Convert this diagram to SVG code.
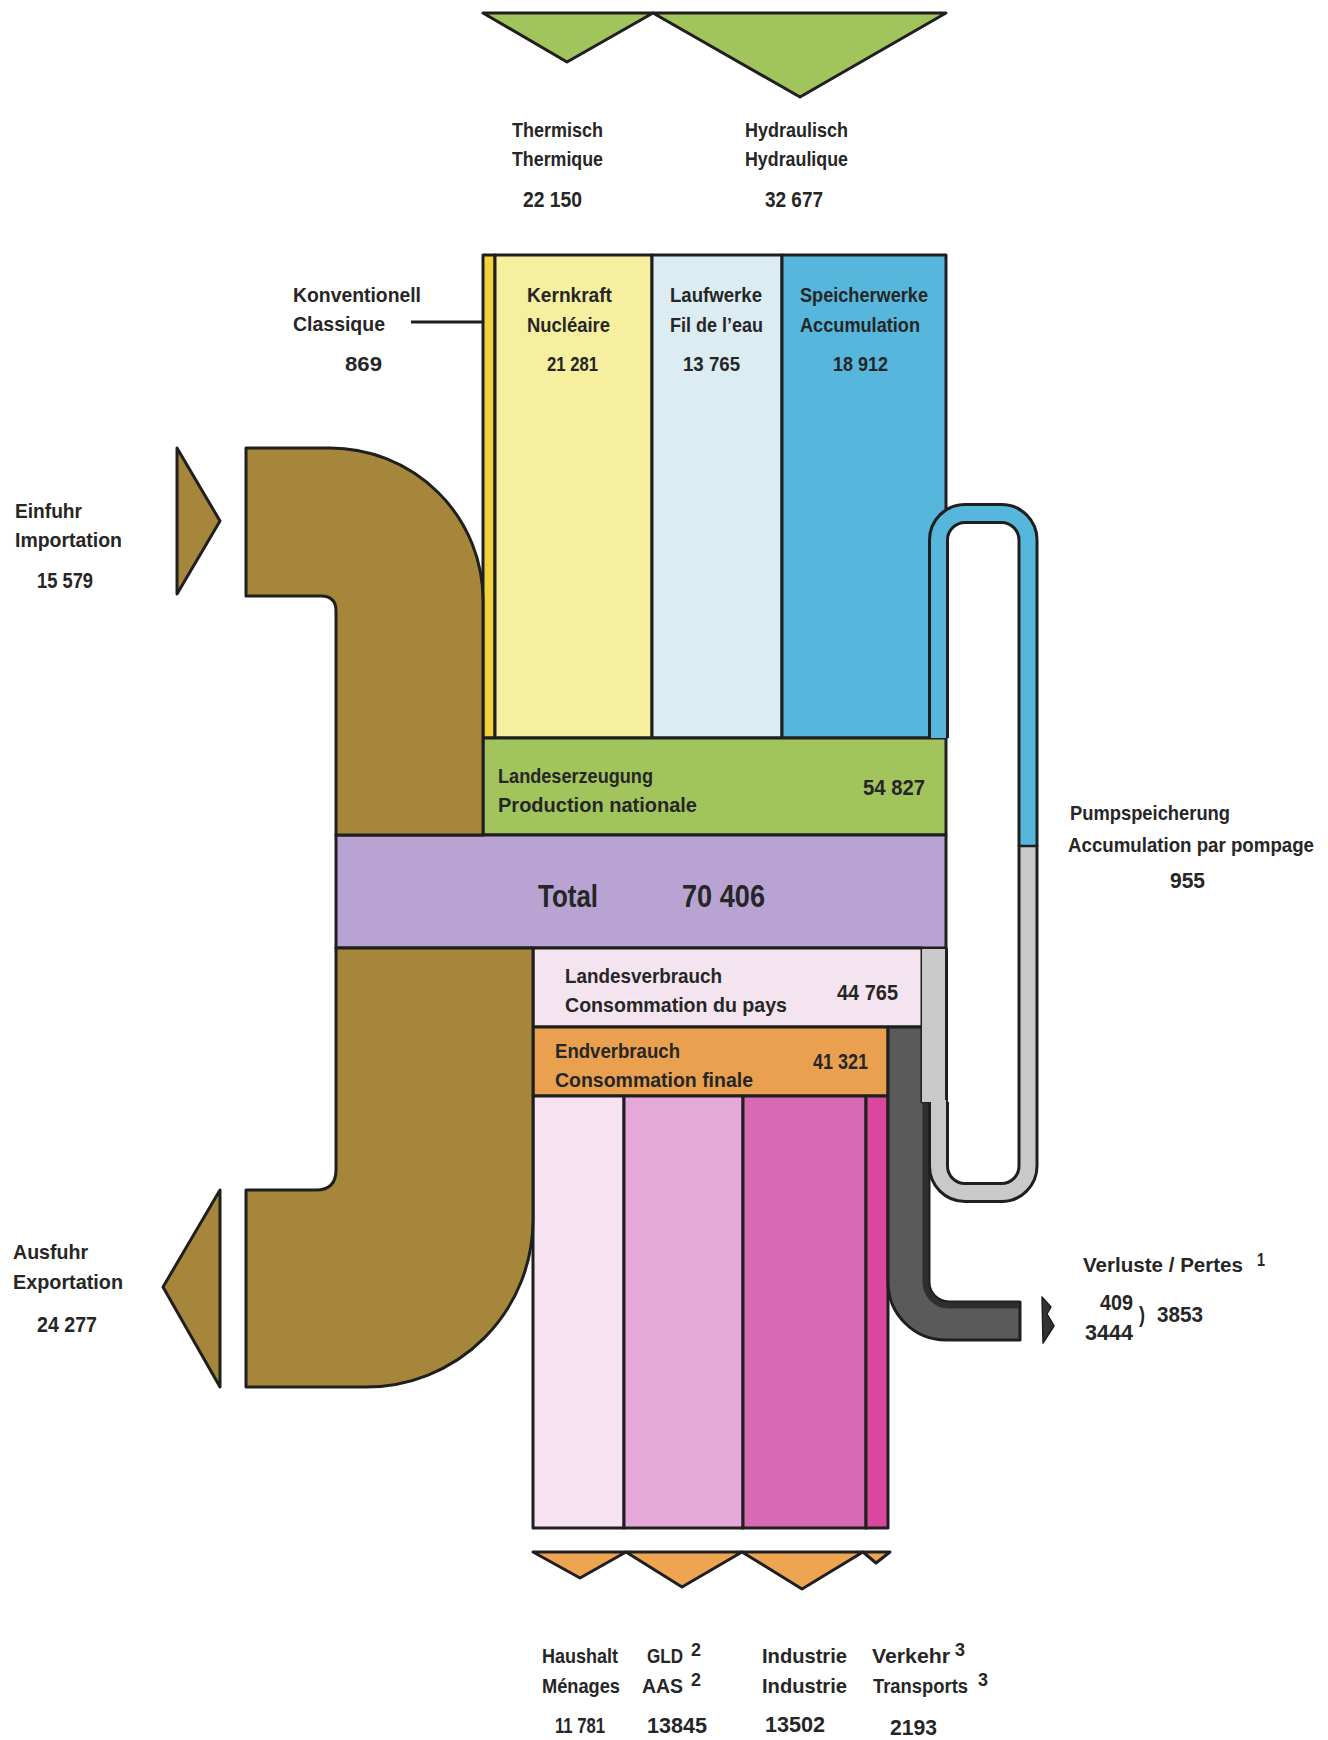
<svg xmlns="http://www.w3.org/2000/svg" width="1328" height="1740" viewBox="0 0 1328 1740">
<style>
.t{font-family:"Liberation Sans","Arimo",sans-serif;font-weight:bold;font-size:21px;fill:#262626}
.n{font-size:22px}
.big{font-size:32px}
.sup{font-size:18px}
.sm{font-size:19.5px}
.b{stroke:#1f1f1f;stroke-width:3;stroke-linejoin:round}
.green{fill:#a2c45c}
.brown{fill:#a6863a}
.orange{fill:#eea552}
</style>
<rect width="1328" height="1740" fill="#ffffff"/>

<!-- top triangles -->
<g id="thermisch">
<polygon class="b green" points="483,13 653,13 567,62"/>
<text class="t" x="512" y="137" textLength="91" lengthAdjust="spacingAndGlyphs">Thermisch</text>
<text class="t" x="512" y="166" textLength="91" lengthAdjust="spacingAndGlyphs">Thermique</text>
<text class="t n" x="523" y="207" textLength="59" lengthAdjust="spacingAndGlyphs">22 150</text>
</g>
<g id="hydraulisch">
<polygon class="b green" points="653,13 946,13 800,97"/>
<text class="t" x="745" y="137" textLength="103" lengthAdjust="spacingAndGlyphs">Hydraulisch</text>
<text class="t" x="745" y="166" textLength="103" lengthAdjust="spacingAndGlyphs">Hydraulique</text>
<text class="t n" x="765" y="207" textLength="58" lengthAdjust="spacingAndGlyphs">32 677</text>
</g>

<!-- production columns -->
<g id="konventionell">
<rect class="b" x="483" y="255" width="12" height="483" fill="#f0d33c"/>
<text class="t" x="293" y="302" textLength="128" lengthAdjust="spacingAndGlyphs">Konventionell</text>
<text class="t" x="293" y="331" textLength="92" lengthAdjust="spacingAndGlyphs">Classique</text>
<text class="t" x="345" y="371" textLength="37" lengthAdjust="spacingAndGlyphs">869</text>
</g>
<g id="kernkraft">
<rect class="b" x="495" y="255" width="157" height="483" fill="#f6ef9f"/>
<text class="t" x="527" y="302" textLength="85" lengthAdjust="spacingAndGlyphs">Kernkraft</text>
<text class="t" x="527" y="332" textLength="83" lengthAdjust="spacingAndGlyphs">Nucléaire</text>
<text class="t" x="547" y="371" textLength="51" lengthAdjust="spacingAndGlyphs">21 281</text>
</g>
<g id="laufwerke">
<rect class="b" x="652" y="255" width="130" height="483" fill="#dcecf3"/>
<text class="t" x="670" y="302" textLength="92" lengthAdjust="spacingAndGlyphs">Laufwerke</text>
<text class="t" x="670" y="332" textLength="93" lengthAdjust="spacingAndGlyphs">Fil de l’eau</text>
<text class="t" x="683" y="371" textLength="57" lengthAdjust="spacingAndGlyphs">13 765</text>
</g>
<g id="speicherwerke">
<rect class="b" x="782" y="255" width="164" height="483" fill="#56b6dc"/>
<text class="t" x="800" y="302" textLength="128" lengthAdjust="spacingAndGlyphs">Speicherwerke</text>
<text class="t" x="800" y="332" textLength="120" lengthAdjust="spacingAndGlyphs">Accumulation</text>
<text class="t" x="833" y="371" textLength="55" lengthAdjust="spacingAndGlyphs">18 912</text>
</g>

<g id="landeserzeugung">
<rect class="b green" x="483" y="738" width="463" height="97"/>
<text class="t" x="498" y="783" textLength="155" lengthAdjust="spacingAndGlyphs">Landeserzeugung</text>
<text class="t" x="498" y="812" textLength="199" lengthAdjust="spacingAndGlyphs">Production nationale</text>
<text class="t n" x="863" y="795" textLength="62" lengthAdjust="spacingAndGlyphs">54 827</text>
</g>

<g id="total">
<rect class="b" x="336" y="835" width="610" height="113" fill="#b8a3d3"/>
<text class="t big" x="538" y="907" textLength="60" lengthAdjust="spacingAndGlyphs">Total</text>
<text class="t big" x="682" y="907" textLength="83" lengthAdjust="spacingAndGlyphs">70 406</text>
</g>

<g id="landesverbrauch">
<rect class="b" x="533" y="948" width="389" height="79" fill="#f4e4ef"/>
<text class="t" x="565" y="983" textLength="157" lengthAdjust="spacingAndGlyphs">Landesverbrauch</text>
<text class="t" x="565" y="1012" textLength="222" lengthAdjust="spacingAndGlyphs">Consommation du pays</text>
<text class="t n" x="837" y="1000" textLength="61" lengthAdjust="spacingAndGlyphs">44 765</text>
</g>

<g id="endverbrauch">
<rect class="b" x="533" y="1027" width="355" height="69" fill="#e9a14f"/>
<text class="t" x="555" y="1058" textLength="125" lengthAdjust="spacingAndGlyphs">Endverbrauch</text>
<text class="t" x="555" y="1087" textLength="198" lengthAdjust="spacingAndGlyphs">Consommation finale</text>
<text class="t n" x="813" y="1069" textLength="55" lengthAdjust="spacingAndGlyphs">41 321</text>
</g>

<g id="haushalt">
<rect class="b" x="533" y="1096" width="91" height="432" fill="#f6e2f0"/>
<polygon class="b orange" points="533,1552 626,1552 580,1578"/>
<text class="t" x="542" y="1663" textLength="76" lengthAdjust="spacingAndGlyphs">Haushalt</text>
<text class="t" x="542" y="1693" textLength="78" lengthAdjust="spacingAndGlyphs">Ménages</text>
<text class="t n" x="555" y="1733" textLength="50" lengthAdjust="spacingAndGlyphs">11 781</text>
</g>
<g id="gld">
<rect class="b" x="624" y="1096" width="119" height="432" fill="#e4a8d9"/>
<polygon class="b orange" points="626,1552 742,1552 682,1587"/>
<text class="t" x="647" y="1663" textLength="36" lengthAdjust="spacingAndGlyphs">GLD</text>
<text class="t sup" x="691" y="1656" textLength="10" lengthAdjust="spacingAndGlyphs">2</text>
<text class="t" x="642" y="1693" textLength="41" lengthAdjust="spacingAndGlyphs">AAS</text>
<text class="t sup" x="691" y="1686" textLength="10" lengthAdjust="spacingAndGlyphs">2</text>
<text class="t n" x="647" y="1733" textLength="60" lengthAdjust="spacingAndGlyphs">13845</text>
</g>
<g id="industrie">
<rect class="b" x="743" y="1096" width="123" height="432" fill="#d86ab4"/>
<polygon class="b orange" points="742,1552 863,1552 802,1589"/>
<text class="t" x="762" y="1663" textLength="85" lengthAdjust="spacingAndGlyphs">Industrie</text>
<text class="t" x="762" y="1693" textLength="85" lengthAdjust="spacingAndGlyphs">Industrie</text>
<text class="t n" x="765" y="1732" textLength="60" lengthAdjust="spacingAndGlyphs">13502</text>
</g>
<g id="verkehr">
<rect class="b" x="866" y="1096" width="22" height="432" fill="#d9479e"/>
<polygon class="b orange" points="863,1552 890,1552 876,1563"/>
<text class="t" x="872" y="1663" textLength="78" lengthAdjust="spacingAndGlyphs">Verkehr</text>
<text class="t sup" x="955" y="1656" textLength="10" lengthAdjust="spacingAndGlyphs">3</text>
<text class="t sm" x="873" y="1693" textLength="95" lengthAdjust="spacingAndGlyphs">Transports</text>
<text class="t sup" x="978" y="1686" textLength="10" lengthAdjust="spacingAndGlyphs">3</text>
<text class="t n" x="890" y="1735" textLength="47" lengthAdjust="spacingAndGlyphs">2193</text>
</g>

<g id="einfuhr">
<polygon class="b brown" points="177,448 220,521 177,594"/>
<text class="t" x="15" y="518" textLength="67" lengthAdjust="spacingAndGlyphs">Einfuhr</text>
<text class="t" x="15" y="547" textLength="107" lengthAdjust="spacingAndGlyphs">Importation</text>
<text class="t n" x="37" y="588" textLength="56" lengthAdjust="spacingAndGlyphs">15 579</text>
</g>
<g id="ausfuhr">
<polygon class="b brown" points="220,1190 163,1287 220,1387"/>
<text class="t" x="13" y="1259" textLength="75" lengthAdjust="spacingAndGlyphs">Ausfuhr</text>
<text class="t" x="13" y="1289" textLength="110" lengthAdjust="spacingAndGlyphs">Exportation</text>
<text class="t n" x="37" y="1332" textLength="60" lengthAdjust="spacingAndGlyphs">24 277</text>
</g>

<g id="pumpspeicherung">
<text class="t" x="1070" y="820" textLength="160" lengthAdjust="spacingAndGlyphs">Pumpspeicherung</text>
<text class="t sm" x="1068" y="852" textLength="246" lengthAdjust="spacingAndGlyphs">Accumulation par pompage</text>
<text class="t n" x="1170" y="888" textLength="35" lengthAdjust="spacingAndGlyphs">955</text>
</g>

<g id="verluste">
<polygon fill="#333333" stroke="#1f1f1f" stroke-width="1.5" stroke-linejoin="round" points="1042,1297 1051,1307 1047,1314 1054,1326 1043,1343"/>
<text class="t" x="1083" y="1272" textLength="160" lengthAdjust="spacingAndGlyphs">Verluste / Pertes</text>
<text class="t sup" x="1257" y="1266" textLength="8" lengthAdjust="spacingAndGlyphs">1</text>
<text class="t n" x="1100" y="1310" textLength="33" lengthAdjust="spacingAndGlyphs">409</text>
<text class="t n" x="1085" y="1340" textLength="48" lengthAdjust="spacingAndGlyphs">3444</text>
<text class="t n" x="1139" y="1322" textLength="6" lengthAdjust="spacingAndGlyphs">)</text>
<text class="t n" x="1157" y="1322" textLength="46" lengthAdjust="spacingAndGlyphs">3853</text>
</g>

<g id="connectors" fill="none">
<!-- import flow -->
<path class="b brown" d="M246,448 H330 A153,152 0 0 1 483,600 V835 H336 V611 Q336,596 321,596 H246 Z"/>
<!-- export flow -->
<path class="b brown" d="M336,948 H533 V1220 A167,167 0 0 1 366,1387 H246 V1190 H316 Q336,1190 336,1170 Z"/>
<!-- losses band -->
<path class="b" fill="#5a5a5a" d="M888,1027 H922 V1102 H929 V1282 A20,20 0 0 0 949,1302 H1020 V1340 H946 A58,58 0 0 1 888,1282 Z"/>
<path d="M925.5,1103 V1282 A23.5,23.5 0 0 0 949,1305.5 H1019" stroke="#2e2e2e" stroke-width="6"/>
<!-- pump storage return strip -->
<rect x="922" y="949" width="24" height="153" fill="#c9c9c9"/>
<path d="M946.5,948 V1102" stroke="#1f1f1f" stroke-width="3"/>
<!-- pump loop gray -->
<path d="M1028,845 V1166 A26.5,26.5 0 0 1 1001.5,1192.5 H965 A26.5,26.5 0 0 1 938.5,1166 V1102" stroke="#1f1f1f" stroke-width="21"/>
<path d="M1028,845 V1166 A26.5,26.5 0 0 1 1001.5,1192.5 H965 A26.5,26.5 0 0 1 938.5,1166 V1100" stroke="#c9c9c9" stroke-width="15"/>
<!-- pump loop blue -->
<path d="M938.5,738 V540 A26.5,26.5 0 0 1 965,513.5 H1001.5 A26.5,26.5 0 0 1 1028,540 V846" stroke="#1f1f1f" stroke-width="21"/>
<path d="M938.5,738 V540 A26.5,26.5 0 0 1 965,513.5 H1001.5 A26.5,26.5 0 0 1 1028,540 V845" stroke="#56b6dc" stroke-width="15"/>
<path d="M1020,846 H1036" stroke="#1f1f1f" stroke-width="2.5"/>
<!-- leader line Konventionell -->
<path d="M411,322 H484" stroke="#1f1f1f" stroke-width="3"/>
</g>
</svg>
